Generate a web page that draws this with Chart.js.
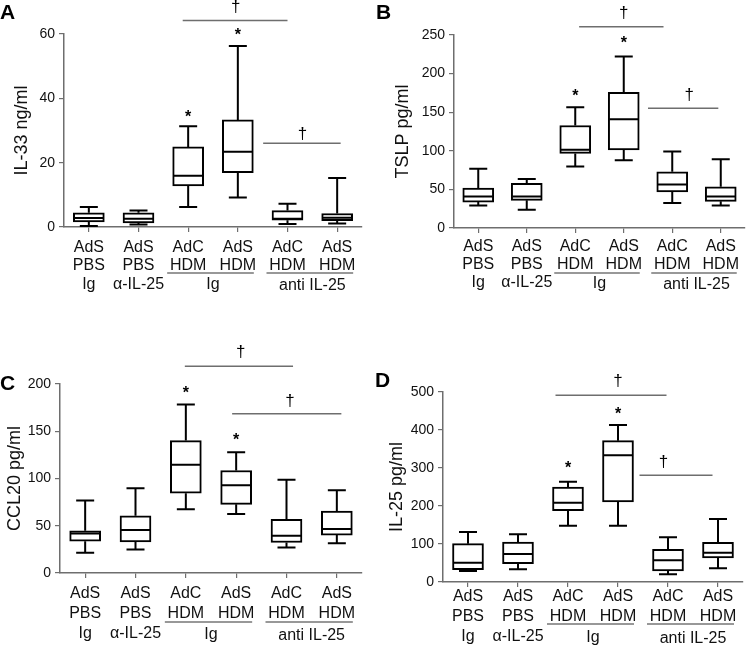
<!DOCTYPE html>
<html>
<head>
<meta charset="utf-8">
<script src="https://cdn.jsdelivr.net/npm/chart.js@4.4.0/dist/chart.umd.min.js"></script>
<style>
  body { margin: 0; background: #fff; width: 750px; height: 647px; position: relative; overflow: hidden; font-family: 'Liberation Sans', Arial, sans-serif; }
  canvas { position: absolute; }
  .lbl { position: absolute; font-weight: bold; font-size: 21px; line-height: 1; color: #000; }
</style>
</head>
<body>
<canvas id="pa" width="375" height="320" style="left:0;top:0"></canvas>
<canvas id="pb" width="375" height="320" style="left:375px;top:0"></canvas>
<canvas id="pc" width="375" height="327" style="left:0;top:320px"></canvas>
<canvas id="pd" width="375" height="327" style="left:375px;top:320px"></canvas>
<div class="lbl" style="left:0;top:1px">A</div>
<div class="lbl" style="left:376px;top:1px">B</div>
<div class="lbl" style="left:0;top:372px">C</div>
<div class="lbl" style="left:375px;top:369px">D</div>
<script>
const font = "'Liberation Sans', Arial, sans-serif"
const axisColor = '#6e6e6e'

// groups on the x axis
let cats = [['AdS', 'PBS', 'Ig'], ['AdS', 'PBS', 'α-IL-25'], ['AdC', 'HDM'], ['AdS', 'HDM'], ['AdC', 'HDM'], ['AdS', 'HDM']]
let groupNames = ['Ig', 'anti IL-25']

// A - IL-33 ng/ml
let il33Min = [0.3, 0.8, 6.2, 9.2, 0.9, 1.1]
let il33Q1 = [1.6, 1.3, 12.8, 16.9, 2.1, 2.0]
let il33Med = [2.8, 2.6, 15.9, 23.4, 2.6, 2.9]
let il33Q3 = [4.4, 4.4, 24.9, 33.3, 5.1, 4.2]
let il33Max = [6.2, 5.1, 31.3, 56.3, 7.2, 15.2]

// B - TSLP pg/ml
let tslpMin = [29.3, 23.7, 79.7, 87.9, 32.3, 29.3]
let tslpQ1 = [33.6, 35.8, 96.6, 101.3, 46.6, 34.5]
let tslpMed = [40.9, 40.9, 101.3, 141, 56.5, 40.9]
let tslpQ3 = [51.7, 57.8, 132.8, 175.9, 72.8, 53.4]
let tslpMax = [76.7, 63.4, 156.5, 222, 99.1, 89.2]

// C - CCL20 pg/ml
let ccl20Min = [21.3, 24.8, 67.4, 62.4, 27, 31.6]
let ccl20Q1 = [33.7, 33.0, 84.4, 72.7, 32.3, 40.1]
let ccl20Med = [41.8, 45.4, 114.5, 92.9, 39.4, 46.5]
let ccl20Q3 = [44.7, 60.6, 140.1, 108.5, 56.7, 65.6]
let ccl20Max = [76.6, 89.7, 178.4, 127.7, 98.6, 87.6]

// D - IL-25 pg/ml
let il25Min = [29, 33.3, 148.2, 148.2, 20.2, 36]
let il25Q1 = [32.5, 48.2, 187.7, 210.5, 29, 63.2]
let il25Med = [50.9, 73.7, 208.8, 333.3, 57, 77.2]
let il25Q3 = [100.9, 105.3, 250, 372, 86, 104.4]
let il25Max = [131.6, 125.4, 264, 413.2, 117.5, 165.8]

// y axes
let yMax = [60, 250, 200, 500]
let yStep = [20, 50, 50, 100]


function textAt(ctx, txt, cx, cy) {
    // centre the visible glyph on (cx, cy)
    let m = ctx.measureText(txt)
    ctx.fillText(txt, cx, cy + (m.actualBoundingBoxAscent - m.actualBoundingBoxDescent) / 2)
}

function panel(id, o) {
    const extras = {
        id: 'extras',
        afterDatasetsDraw(chart) {
            const ctx = chart.ctx, x = chart.scales.x, y = chart.scales.y, area = chart.chartArea
            ctx.save()
            // whiskers, caps, medians
            ctx.strokeStyle = '#000'
            ctx.lineWidth = 2
            o.med.forEach((m, i) => {
                let cx = x.getPixelForValue(i)
                let hw = 15.5, cw = 9
                let pTop = y.getPixelForValue(o.hi[i]), pBot = y.getPixelForValue(o.lo[i])
                ctx.beginPath()
                ctx.moveTo(cx, pTop)
                ctx.lineTo(cx, y.getPixelForValue(o.q3[i]))
                ctx.moveTo(cx, y.getPixelForValue(o.q1[i]))
                ctx.lineTo(cx, pBot)
                ctx.moveTo(cx - cw, pTop)
                ctx.lineTo(cx + cw, pTop)
                ctx.moveTo(cx - cw, pBot)
                ctx.lineTo(cx + cw, pBot)
                ctx.moveTo(cx - hw + 1, y.getPixelForValue(m))
                ctx.lineTo(cx + hw - 1, y.getPixelForValue(m))
                ctx.stroke()
            })

            // significance bars
            ctx.fillStyle = '#000'
            ctx.textAlign = 'center'
            o.sig.forEach(s => {
                ctx.strokeStyle = axisColor
                ctx.lineWidth = 1.5
                ctx.beginPath()
                ctx.moveTo(x.getPixelForValue(s[0]), y.getPixelForValue(s[2]))
                ctx.lineTo(x.getPixelForValue(s[1]), y.getPixelForValue(s[2]))
                ctx.stroke()
                ctx.font = '17px ' + font
                textAt(ctx, '†', x.getPixelForValue(s[3]), y.getPixelForValue(s[4]))
            })
            ctx.font = 'bold 16px ' + font
            o.stars.forEach(s => textAt(ctx, '*', x.getPixelForValue(s[0]), y.getPixelForValue(s[1])))

            // group underlines + group names
            let ly = area.bottom + o.groupLine
            let ty = area.bottom + 5 + o.pad + o.lh * 2.5
            ctx.font = '16px ' + font
            ctx.fillStyle = '#111'
            ctx.strokeStyle = '#333'
            ctx.lineWidth = 1.2
            groupNames.forEach((g, k) => {
                let a = x.getPixelForValue(2 + k * 2), b = x.getPixelForValue(3 + k * 2)
                ctx.beginPath()
                ctx.moveTo(a - 21, ly)
                ctx.lineTo(b + 16, ly)
                ctx.stroke()
                textAt(ctx, g, (a + b) / 2, ty)
            })
            ctx.restore()
        }
    }

    new Chart(document.getElementById(id), {
        type: 'bar',
        data: {
            labels: cats,
            datasets: [{
                data: o.q1.map((v, i) => [v, o.q3[i]]),
                backgroundColor: '#fff',
                borderColor: '#000',
                borderWidth: 2,
                borderSkipped: false,
                barThickness: 31
            }]
        },
        options: {
            responsive: false,
            animation: false,
            layout: { padding: { top: o.top, right: o.right, left: 0, bottom: 0 } },
            plugins: { legend: { display: false }, tooltip: { enabled: false } },
            scales: {
                x: {
                    grid: { drawOnChartArea: false, offset: false, tickLength: 5, color: axisColor, lineWidth: 1.2 },
                    border: { color: axisColor, width: 1.5 },
                    ticks: { color: '#111', padding: o.pad, maxRotation: 0, autoSkip: false, font: { family: font, size: 16, lineHeight: o.lh + 'px' } },
                    afterFit: s => { s.height = o.xh }
                },
                y: {
                    min: 0,
                    max: yMax[o.k],
                    grid: { drawOnChartArea: false, tickLength: 5, color: axisColor, lineWidth: 1.2 },
                    border: { color: axisColor, width: 1.5 },
                    ticks: { stepSize: yStep[o.k], color: '#111', padding: 4, font: { family: font, size: 14 } },
                    title: { display: true, text: o.title, color: '#111', font: { family: font, size: 18 }, padding: { top: o.tpad, bottom: 0 } },
                    afterFit: s => { s.width = o.yw }
                }
            }
        },
        plugins: [extras]
    })
}

panel('pa', {
    k: 0, lo: il33Min, q1: il33Q1, med: il33Med, q3: il33Q3, hi: il33Max,
    title: 'IL-33 ng/ml',
    yw: 64, top: 34, right: 13, xh: 93, pad: 6, lh: 18.5, tpad: 11.2, groupLine: 46,
    sig: [[1.89, 4.0, 64.2, 2.96, 68.4], [3.51, 5.07, 26.0, 4.3, 29.2]],
    stars: [[2, 35.4], [3, 60.7]]
})

panel('pb', {
    k: 1, lo: tslpMin, q1: tslpQ1, med: tslpMed, q3: tslpQ3, hi: tslpMax,
    title: 'TSLP pg/ml',
    yw: 79, top: 35, right: 5, xh: 92, pad: 5, lh: 18, tpad: 17.2, groupLine: 45,
    sig: [[2.08, 3.82, 260.7, 3.0, 279], [3.5, 4.95, 155.2, 4.35, 172.4]],
    stars: [[2, 175.3], [3, 244.4]]
})

panel('pc', {
    k: 2, lo: ccl20Min, q1: ccl20Q1, med: ccl20Med, q3: ccl20Q3, hi: ccl20Max,
    title: 'CCL20 pg/ml',
    yw: 60, top: 64, right: 13, xh: 74, pad: 6, lh: 20, tpad: 4.2, groupLine: 49,
    sig: [[1.98, 4.13, 218.7, 3.09, 234.6], [2.92, 5.09, 168.5, 4.07, 182.6]],
    stars: [[2, 194], [3, 144.4]]
})

panel('pd', {
    k: 3, lo: il25Min, q1: il25Q1, med: il25Med, q3: il25Q3, hi: il25Max,
    title: 'IL-25 pg/ml',
    yw: 68, top: 72, right: 7, xh: 65, pad: 0, lh: 20, tpad: 11.2, groupLine: 42,
    sig: [[1.75, 3.97, 491.3, 3.0, 530.8], [3.43, 4.89, 280.8, 3.91, 315.8]],
    stars: [[2, 309.7], [3, 451.8]]
})
</script>
</body>
</html>
